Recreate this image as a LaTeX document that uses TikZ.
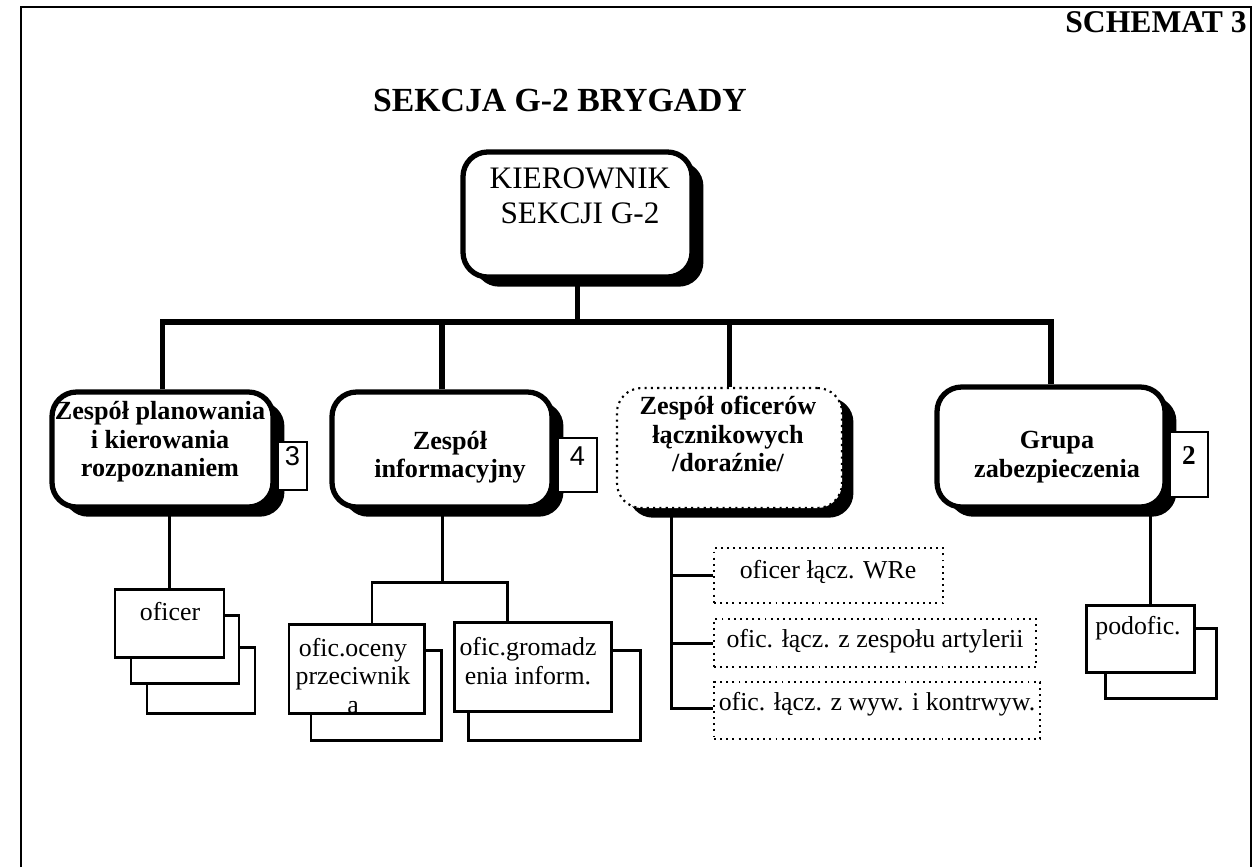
\documentclass[tikz,border=0pt]{standalone}
\usepackage{fontspec}
\setmainfont{Liberation Serif}
\newfontfamily\badgefont{Liberation Sans}
\usetikzlibrary{fit,shadows}

\begin{document}
\begin{tikzpicture}[x=0.02cm, y=-0.02cm,
    mainbox/.style={draw, line width=3pt, rounded corners=14pt, fill=white, inner sep=0pt,
        drop shadow={shadow xshift=6.5pt, shadow yshift=-5.5pt, fill=black, opacity=1}},
    dotmain/.style={mainbox, line width=1.2pt, dash pattern=on 1.2pt off 2.4pt},
    badge/.style={draw, line width=1.2pt, fill=white, inner sep=0pt, font=\fontsize{15.5}{18}\selectfont\badgefont},
    cardbox/.style={draw, line width=1.7pt, fill=white, inner sep=0pt},
    dotcard/.style={draw, line width=1.1pt, dash pattern=on 1.1pt off 2.4pt, inner sep=0pt},
    boldtxt/.style={align=center, inner sep=0pt, font=\fontsize{14.9}{16.2}\selectfont\bfseries},
    cardtxt/.style={align=center, inner sep=0pt, font=\fontsize{14.7}{16.4}\selectfont},
    busline/.style={line width=3pt},
    thinline/.style={line width=1.7pt}]

\useasboundingbox (0,0) rectangle (1253,867);
\draw[line width=1.2pt] (21,867) -- (21,7) -- (1251,7) -- (1251,867); % frame

\node[anchor=base east, inner sep=0pt, font=\fontsize{18}{20}\selectfont\bfseries] (schemat) at (1247,32) {SCHEMAT 3};
\node[inner sep=0pt, font=\fontsize{19.2}{22}\selectfont\bfseries] (tytul) at (560,100) {SEKCJA G-2 BRYGADY};

% kierownik
\node[mainbox, fit={(463,152) (692,277)}] (kier) {};
\node[cardtxt, font=\fontsize{17.8}{19.8}\selectfont] (kiertxt) at (580,196) {KIEROWNIK\\SEKCJI G-2};

% zespoly
\node[mainbox, fit={(52,392) (273,507)}] (plan) {};
\node[mainbox, fit={(332,392) (552,507)}] (info) {};
\node[dotmain, fit={(617,388) (842,508)}] (lacz) {};
\node[mainbox, fit={(937,387) (1165,507)}] (grupa) {};

\node[boldtxt] (plantxt) at (160,442) {Zespół planowania\\i kierowania\\rozpoznaniem};
\node[boldtxt] (infotxt) at (450,457) {Zespół\\informacyjny};
\node[boldtxt] (lacztxt) at (728,434) {Zespół oficerów\\łącznikowych\\/doraźnie/};
\node[boldtxt] (grupatxt) at (1057,457) {Grupa\\zabezpieczenia};

\node[badge, fit={(278,442) (307,490)}] (b3) {3};
\node[badge, fit={(558,438) (597,492)}] (b4) {4};
\node[badge, font=\fontsize{15.5}{18}\selectfont\bfseries, fit={(1170,432) (1208,497)}] (b2) {2};

\coordinate (bus) at (0,322);
\draw[busline] (kier.south) -- (kier.south |- bus); % kier
\draw[busline] (plan.north) -- (plan.north |- bus) -- (grupa.north |- bus) -- (grupa.north); % bus
\draw[busline] (info.north |- bus) -- (info.north); % info
\draw[busline] (lacz.north |- bus) -- (lacz.north); % lacz

% oficer
\node[cardbox, fit={(147,647) (255,713)}] (ofc3) {};
\node[cardbox, fit={(131,615) (239,683)}] (ofc2) {};
\node[cardbox, fit={(115,589) (224,657)}] (ofc1) {};
\node[cardtxt] (ofctxt) at (170,612) {oficer};
\draw[thinline] (plan.south -| ofc1.north) -- (ofc1.north);

% ofic.oceny / ofic.gromadz
\node[cardbox, fit={(311,650) (441,740)}] (oc2) {};
\node[cardbox, fit={(289,624) (424,713)}] (oc1) {};
\node[cardbox, fit={(468,650) (640,740)}] (gr2) {};
\node[cardbox, fit={(454,622) (611,711)}] (gr1) {};
\node[cardtxt] (octxt) at (353,676) {ofic.oceny\\przeciwnik\\a};
\node[cardtxt] (grtxt) at (528,661) {ofic.gromadz\\enia inform.};

\coordinate (ocj) at (372,582);
\coordinate (grj) at (507,582);
\draw[thinline] (info.south) -- (info.south |- ocj);
\draw[thinline] (ocj |- oc1.north) -- (ocj) -- (grj) -- (grj |- gr1.north);

% oficerowie lacznikowi
\node[dotcard, fit={(714,548) (943,603)}] (w1) {};
\node[dotcard, fit={(714,619) (1036,667)}] (w2) {};
\node[dotcard, fit={(714,682) (1040,739)}] (w3) {};
\node[cardtxt] (w1txt) at (828,572) {oficer łącz. WRe};
\node[cardtxt] (w2txt) at (875,641) {ofic. łącz. z zespołu artylerii};
\node[cardtxt] (w3txt) at (877,704) {ofic. łącz. z wyw. i kontrwyw.};

\coordinate (lj) at (671,0);
\draw[thinline] (lacz.south -| lj) -- (lj |- 0,708) -- (w3.west |- 0,708);
\draw[thinline] (lj |- w1.west) -- (w1.west);
\draw[thinline] (lj |- w2.west) -- (w2.west);

% podoficer
\node[cardbox, fit={(1105,628) (1216,698)}] (pod2) {};
\node[cardbox, fit={(1086,605) (1194,672)}] (pod1) {};
\node[cardtxt] (podtxt) at (1138,628) {podofic.};

\coordinate (gj) at (1150,0);
\draw[thinline] (grupa.south -| gj) -- (pod1.north -| gj);

\end{tikzpicture}
\end{document}
